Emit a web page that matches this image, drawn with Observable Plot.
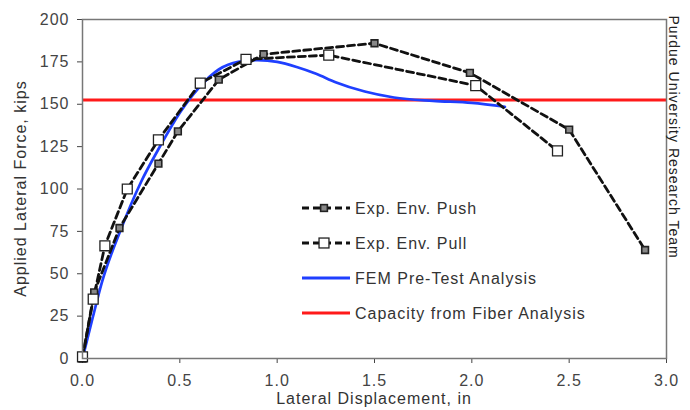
<!DOCTYPE html>
<html><head><meta charset="utf-8">
<script src="https://cdn.jsdelivr.net/npm/d3@7"></script>
<script src="https://cdn.jsdelivr.net/npm/@observablehq/plot@0.6"></script>
<style>
body{margin:0;background:#fff;}
#chart{position:relative;width:690px;height:410px;}
</style></head><body><div id="chart"></div>
<script>
// ---- data ----
const pushX = [0, 0.06, 0.19, 0.39, 0.49, 0.70, 0.93, 1.50, 1.99, 2.50, 2.89];
const pushY = [0, 39, 77, 115, 134, 164.5, 179.5, 186, 168.5, 135, 64];
const pullX = [0, 0.055, 0.115, 0.23, 0.39, 0.605, 0.84, 1.265, 2.02, 2.44];
const pullY = [1, 35, 66.5, 100, 129, 162.5, 176.5, 179, 161, 122.5];
const femX = [0, 0.05, 0.1, 0.2, 0.3, 0.4, 0.5, 0.6, 0.7, 0.8, 0.9, 1.0, 1.1, 1.2, 1.3, 1.45, 1.6, 1.8, 2.0, 2.17];
const femY = [0, 23, 45, 77, 104, 125.5, 145, 160, 170.5, 175, 176, 175, 172, 168, 163, 157.5, 154, 152, 150.8, 148.5];
const capacity = 152.5;
const xTicks = [0, 0.5, 1.0, 1.5, 2.0, 2.5, 3.0];
const yTicks = [0, 25, 50, 75, 100, 125, 150, 175, 200];
const legendLabels = ["Exp. Env. Push", "Exp. Env. Pull", "FEM Pre-Test Analysis", "Capacity from Fiber Analysis"];
const creditText = "Purdue University Research Team";
const xLabel = "Lateral Displacement, in";
const yLabel = "Applied Lateral Force, kips";

const toRows = (xs, ys) => xs.map((x, i) => ({x, y: ys[i]}));
const push = toRows(pushX, pushY);
const pull = toRows(pullX, pullY);
const fem = toRows(femX, femY);

const FONT = "'Liberation Sans', Arial, sans-serif";
const pushStyle = {stroke: "#111", strokeWidth: 2.8, dash: "7,4", r: 3.8, fill: "#888", mStroke: "#222", mWidth: 1.6};
const pullStyle = {stroke: "#111", strokeWidth: 2.8, dash: "7,4", r: 5.6, fill: "#fff", mStroke: "#222", mWidth: 1.3};
const femColor = "#1f3fff";
const capColor = "#ff1a1a";
const W = 690, H = 410, mL = 82, mR = 24, mT = 19, mB = 52;

const plot = Plot.plot({
  width: W, height: H,
  marginLeft: mL, marginRight: mR, marginTop: mT, marginBottom: mB,
  style: {fontFamily: FONT, fontSize: "16px", color: "#444", background: "#fff", letterSpacing: "1px"},
  x: {domain: [0, 3], ticks: xTicks, tickFormat: d3.format(".1f"), tickSize: 5, tickPadding: 11, label: null},
  y: {domain: [0, 200], ticks: yTicks, tickSize: 5, tickPadding: 8, label: null},
  marks: [
    Plot.ruleY([capacity], {stroke: capColor, strokeWidth: 3}),
    Plot.line(fem, {x: "x", y: "y", stroke: femColor, strokeWidth: 2.7, curve: "monotone-x"}),
    Plot.line(push, {x: "x", y: "y", stroke: pushStyle.stroke, strokeWidth: pushStyle.strokeWidth, strokeDasharray: pushStyle.dash}),
    Plot.line(pull, {x: "x", y: "y", stroke: pullStyle.stroke, strokeWidth: pullStyle.strokeWidth, strokeDasharray: pullStyle.dash}),
    Plot.dot(push, {x: "x", y: "y", symbol: "square", r: pushStyle.r, fill: pushStyle.fill, stroke: pushStyle.mStroke, strokeWidth: pushStyle.mWidth}),
    Plot.dot(pull, {x: "x", y: "y", symbol: "square", r: pullStyle.r, fill: pullStyle.fill, stroke: pullStyle.mStroke, strokeWidth: pullStyle.mWidth}),
    Plot.frame({stroke: "#777", strokeWidth: 1.5}),
    Plot.text([creditText], {text: d => d, frameAnchor: "top-right", rotate: 90, textAnchor: "start",
      dx: 12, dy: -4, fontSize: 14, fill: "#222", ariaLabel: "credit"})
  ]
});
document.getElementById("chart").appendChild(plot);

const svg = d3.select(plot.tagName.toLowerCase() === "svg" ? plot : plot.querySelector("svg"));
svg.selectAll('[aria-label="credit"] text').style("letter-spacing", "0.4px");

// ---- axis titles ----
svg.append("text").attr("text-anchor", "middle")
  .attr("transform", `translate(${(mL + W - mR) / 2},${H - 6})`)
  .attr("fill", "#333").style("font-size", "16px").style("letter-spacing", "1px").text(xLabel);
svg.append("text").attr("text-anchor", "middle").attr("dy", "0.35em")
  .attr("transform", `translate(20,${(mT + H - mB) / 2}) rotate(-90)`)
  .attr("fill", "#333").style("font-size", "16px").style("letter-spacing", "1px").text(yLabel);

// ---- legend (inside plot area) ----
const legendLeft = 302, legendTop = 208, legendStep = 35, swatchW = 48;
const lg = svg.append("g").attr("aria-label", "legend");
const items = [
  {label: legendLabels[0], type: "push"},
  {label: legendLabels[1], type: "pull"},
  {label: legendLabels[2], type: "fem"},
  {label: legendLabels[3], type: "cap"}
];
items.forEach((it, i) => {
  const cy = legendTop + i * legendStep;
  const g = lg.append("g").attr("transform", `translate(${legendLeft},${cy})`);
  if (it.type === "push" || it.type === "pull") {
    const st = it.type === "push" ? pushStyle : pullStyle;
    g.append("line").attr("x1", 0).attr("x2", swatchW).attr("y1", 0).attr("y2", 0)
      .attr("stroke", st.stroke).attr("stroke-width", st.strokeWidth).attr("stroke-dasharray", st.dash);
    const s = st.r * Math.sqrt(Math.PI);
    g.append("rect").attr("x", 22 - s / 2).attr("y", -s / 2).attr("width", s).attr("height", s)
      .attr("fill", st.fill).attr("stroke", st.mStroke).attr("stroke-width", st.mWidth);
  } else {
    g.append("line").attr("x1", 0).attr("x2", swatchW).attr("y1", 0).attr("y2", 0)
      .attr("stroke", it.type === "fem" ? femColor : capColor).attr("stroke-width", 3);
  }
  g.append("text").attr("x", swatchW + 5).attr("y", 0).attr("dy", "0.35em").attr("text-anchor", "start")
    .attr("fill", "#333").style("font-size", "16px").style("letter-spacing", "1px").text(it.label);
});
</script>
</body></html>
